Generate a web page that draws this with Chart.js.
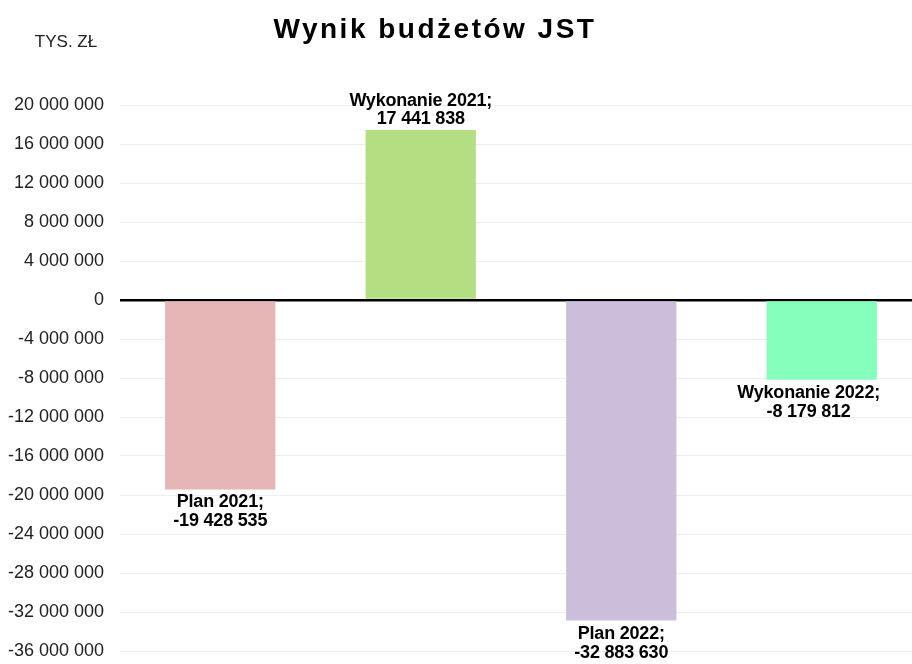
<!DOCTYPE html>
<html>
<head>
<meta charset="utf-8">
<script src="https://cdn.jsdelivr.net/npm/chart.js@4"></script>
<style>
  html, body { margin: 0; padding: 0; background: #fff; overflow: hidden; }
  #wrap { width: 922px; height: 664px; }
</style>
</head>
<body>
<div id="wrap"><canvas id="js--chart"></canvas></div>
<script>
const labels = ["Plan 2021", "Wykonanie 2021", "Plan 2022", "Wykonanie 2022"];
const values = [-19428535, 17441838, -32883630, -8179812];
const colors = ["#E6B5B5", "#B3DF82", "#CBBEDB", "#87FFBC"];

const yMin = -36000000;
const yMax = 20000000;
const yStep = 4000000;

function fmt(v) {
    var s = String(Math.abs(Math.round(v))).replace(/\B(?=(\d{3})+(?!\d))/g, " ");
    return (v < 0 ? "-" : "") + s;
}

const FONT = "'Liberation Sans', Arial, sans-serif";
const VISIBLE_W = 912;

// title, unit and bar labels
const textPlugin = {
    id: "texts",
    afterDatasetsDraw(chart) {
        const ctx = chart.ctx;
        ctx.save();
        ctx.fillStyle = "#000";
        ctx.textAlign = "center";
        ctx.textBaseline = "middle";

        ctx.font = "bold 28px " + FONT;
        ctx.letterSpacing = "2.5px";
        ctx.fillText("Wynik budżetów JST", 435, 30);
        ctx.letterSpacing = "0px";

        ctx.font = "17px " + FONT;
        ctx.fillStyle = "#222";
        ctx.fillText("TYS. ZŁ", 66, 42);

        ctx.fillStyle = "#000";
        ctx.font = "bold 18px " + FONT;
        ctx.letterSpacing = "-0.2px";
        const meta = chart.getDatasetMeta(0);
        meta.data.forEach(function (bar, i) {
            const v = values[i];
            const l1 = labels[i] + ";";
            const l2 = fmt(v);
            // keep the label box inside the visible area
            const w = Math.max(ctx.measureText(l1).width, ctx.measureText(l2).width);
            let x = bar.x;
            if (x + w / 2 > VISIBLE_W - 32) x = VISIBLE_W - 32 - w / 2;
            if (v >= 0) {
                ctx.fillText(l1, x, bar.y - 29);
                ctx.fillText(l2, x, bar.y - 11);
            } else {
                ctx.fillText(l1, x, bar.y + 13);
                ctx.fillText(l2, x, bar.y + 32);
            }
        });
        ctx.restore();
    }
};

const data = {
    labels: labels,
    datasets: [{
        data: values,
        backgroundColor: colors,
        borderWidth: 0,
        barPercentage: 0.55,
        categoryPercentage: 1
    }]
};

const config = {
    type: "bar",
    data: data,
    plugins: [textPlugin],
    options: {
        responsive: true,
        maintainAspectRatio: false,
        animation: false,
        layout: { padding: { top: 105, bottom: 13, left: 0, right: 0 } },
        plugins: {
            legend: { display: false },
            title: { display: false },
            tooltip: { enabled: false }
        },
        scales: {
            x: { display: false },
            y: {
                min: yMin,
                max: yMax,
                border: { display: false },
                grid: {
                    drawTicks: false,
                    color: function (c) { return c.tick && c.tick.value === 0 ? "#000" : "#EEEEEE"; },
                    lineWidth: function (c) { return c.tick && c.tick.value === 0 ? 2.5 : 1; }
                },
                ticks: {
                    stepSize: yStep,
                    padding: 16,
                    color: "#222",
                    font: { family: FONT, size: 18 },
                    callback: function (v) { return fmt(v); }
                },
                afterFit: function (scale) {
                    scale.width = 120;
                    scale.paddingTop = 0;
                    scale.paddingBottom = 0;
                }
            }
        }
    }
};

new Chart(document.getElementById("js--chart"), config);
</script>
</body>
</html>
